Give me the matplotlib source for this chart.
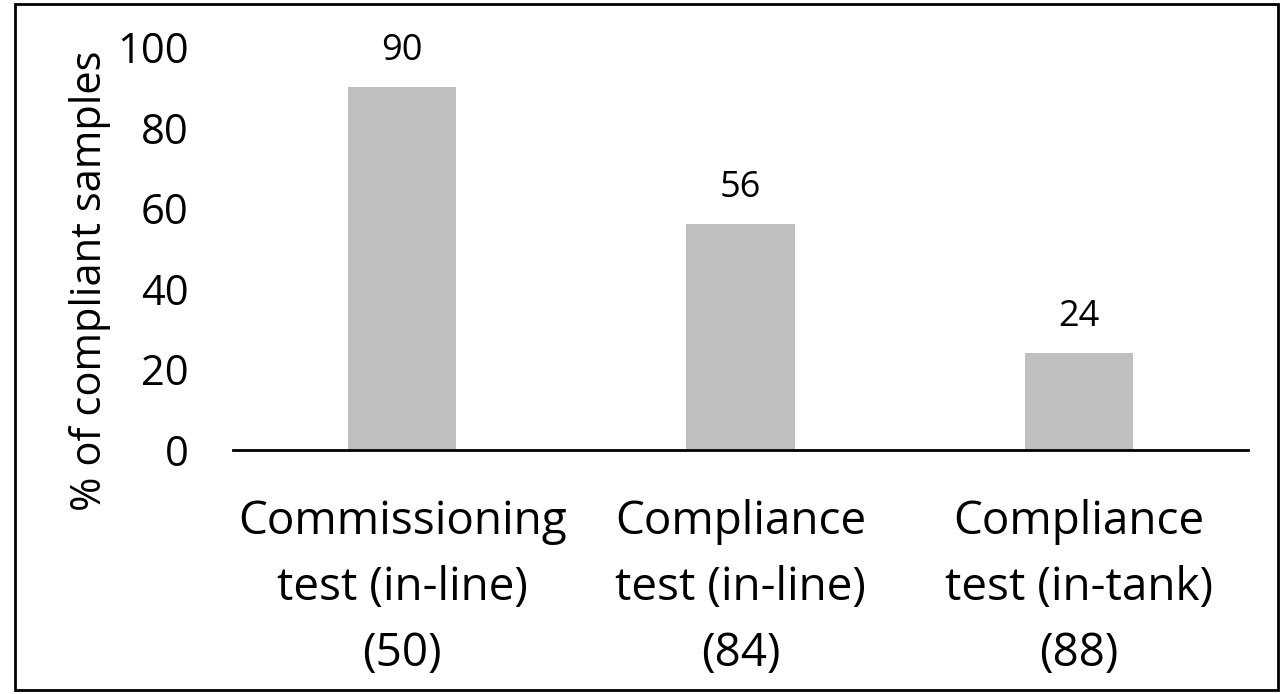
import matplotlib.pyplot as plt
from matplotlib.patches import Rectangle

categories = ["Commissioning\ntest (in-line)\n(50)",
              "Compliance\ntest (in-line)\n(84)",
              "Compliance\ntest (in-tank)\n(88)"]
values = [90, 56, 24]
yticks = [0, 20, 40, 60, 80, 100]

plt.rcParams['font.family'] = ['Open Sans', 'DejaVu Sans']

fig = plt.figure(figsize=(12.86, 6.94), dpi=100)
ax = fig.add_axes([0.1812, 0.3516, 0.7893, 0.5807])

x = range(len(values))
bars = ax.bar(x, values, width=0.32, color='#bfbfbf', zorder=1)

for xi, v in zip(x, values):
    ax.text(xi, v + 4.5, str(v), ha='center', va='bottom', fontsize=26)

ax.set_xlim(-0.5, 2.5)
ax.set_ylim(0, 100)
ax.set_yticks(yticks)
ax.set_yticklabels([str(t) for t in yticks], fontsize=30)
ax.set_xticks(list(x))
ax.set_xticklabels(categories, fontsize=33, linespacing=1.57)
ax.tick_params(axis='y', length=0, pad=32)
ax.tick_params(axis='x', length=0, pad=35)
for s in ['top', 'right', 'left']:
    ax.spines[s].set_visible(False)
ax.spines['bottom'].set_linewidth(2)
ax.spines['bottom'].set_zorder(3)
ax.set_ylabel('% of compliant samples', fontsize=30)
ax.yaxis.set_label_coords(-0.12, 0.42)

fig.patches.append(Rectangle((15 / 1286, 1 - 690 / 694), 1263 / 1286, 686 / 694,
                             transform=fig.transFigure, fill=False,
                             edgecolor='black', linewidth=2))

fig.savefig('out.png', dpi=100)
